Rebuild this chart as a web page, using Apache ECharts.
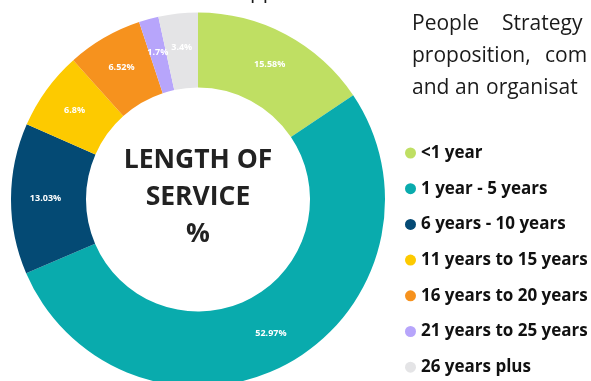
<!DOCTYPE html>
<html>
<head>
<meta charset="utf-8">
<script src="https://cdn.jsdelivr.net/npm/echarts@6/dist/echarts.min.js"></script>
<style>
  html, body { margin: 0; padding: 0; background: #ffffff; }
  #chart { width: 591px; height: 381px; }
</style>
</head>
<body>
<div id="chart"></div>
<script>
// Length-of-service breakdown (percent of staff)
const categories = [
  '<1 year',
  '1 year - 5 years',
  '6 years - 10 years',
  '11 years to 15 years',
  '16 years to 20 years',
  '21 years to 25 years',
  '26 years plus'
];
const shares = [15.58, 52.97, 13.03, 6.8, 6.52, 1.7, 3.4];

const palette = ['#bfdf63', '#09abad', '#044a74', '#fdca00', '#f6921e', '#b7a5fb', '#e4e4e6'];

const centerLines = ['LENGTH OF', 'SERVICE', '%'];
// Justified body copy beside the chart, one entry per word: [line, x, text]
const sideWords = [
  [0, 412, 'People'], [0, 502, 'Strategy'],
  [1, 412, 'proposition,'], [1, 545, 'com'],
  [2, 412, 'and'], [2, 455, 'an'], [2, 486, 'organisat']
];

const FONT = '"Open Sans", "DejaVu Sans", sans-serif';

const chart = echarts.init(document.getElementById('chart'), null, { renderer: 'canvas' });

const centerText = centerLines.map((t, i) => ({
  type: 'text',
  x: 198,
  y: 160 + i * 37,
  silent: true,
  style: {
    text: t,
    fill: '#222222',
    font: 'bold 26.5px ' + FONT,
    textAlign: 'center',
    textVerticalAlign: 'middle'
  }
}));

const sideText = sideWords.map(([line, x, t]) => ({
  type: 'text',
  x: x,
  y: 24 + line * 32,
  silent: true,
  style: {
    text: t,
    fill: '#1a1a1a',
    font: '21px ' + FONT,
    textAlign: 'left',
    textVerticalAlign: 'middle'
  }
}));

// descenders of the heading line above the visible area
const headingTail = {
  type: 'text',
  x: 250,
  y: -8,
  silent: true,
  style: {
    text: 'pp',
    fill: '#1a1a1a',
    font: '21px ' + FONT,
    textAlign: 'left',
    textVerticalAlign: 'middle'
  }
};

const option = {
  backgroundColor: '#ffffff',
  animation: false,
  color: palette,
  legend: {
    orient: 'vertical',
    left: 400,
    top: 139.5,
    height: 241,
    icon: 'circle',
    itemWidth: 11,
    itemHeight: 11,
    itemGap: 18.7,
    selectedMode: false,
    data: categories,
    textStyle: {
      color: '#111111',
      fontFamily: FONT,
      fontWeight: 'bold',
      fontSize: 17
    }
  },
  graphic: centerText.concat(sideText, [headingTail]),
  series: [{
    type: 'pie',
    center: [198, 199.5],
    radius: [112, 187],
    startAngle: 90,
    clockwise: true,
    avoidLabelOverlap: false,
    silent: true,
    itemStyle: { borderWidth: 0 },
    label: {
      show: true,
      position: 'inside',
      formatter: p => p.value + '%',
      color: '#ffffff',
      fontFamily: FONT,
      fontWeight: 'bold',
      fontSize: 9
    },
    labelLine: { show: false },
    data: categories.map((name, i) => ({ name, value: shares[i] }))
  }]
};

chart.setOption(option);
</script>
</body>
</html>
